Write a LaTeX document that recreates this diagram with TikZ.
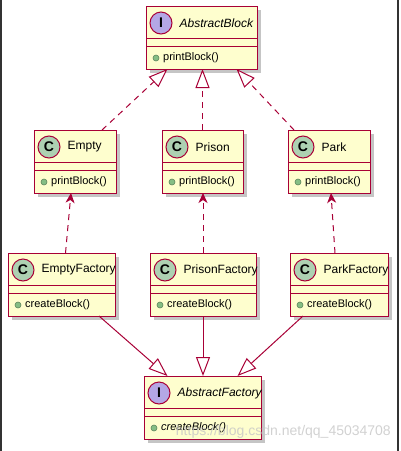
\documentclass[tikz,border=0pt]{standalone}
\usepackage{fontspec}
\setmainfont{Liberation Sans}
\usetikzlibrary{arrows.meta,shadows}

\definecolor{umlred}{HTML}{A80036}
\definecolor{umlfill}{HTML}{FEFECE}
\definecolor{classc}{HTML}{ADD1B2}
\definecolor{ifacec}{HTML}{B4A7E5}
\definecolor{dotc}{HTML}{84BE84}
\definecolor{framec}{HTML}{333333}

\tikzset{
  umlline/.style={draw=umlred, line width=1pt},
  classbox/.style={umlline, fill=umlfill, rectangle, anchor=north, minimum height=63pt,
    inner sep=0pt, outer sep=0pt,
    drop shadow={shadow xshift=4pt, shadow yshift=-4pt, fill=black!45, opacity=0.5}},
  stereo/.style={circle, draw=umlred, line width=1pt, minimum size=22pt, inner sep=0pt,
    font=\fontsize{14}{14}\selectfont\bfseries},
  classname/.style={anchor=west, inner sep=0pt, font=\fontsize{12}{14}\selectfont},
  member/.style={anchor=west, inner sep=0pt, font=\fontsize{11}{13}\selectfont},
  mdot/.style={circle, draw=dotc!70!black, fill=dotc, minimum size=6pt, inner sep=0pt, line width=0.6pt},
  realize/.style={umlline, dash pattern=on 6pt off 5pt, -{Triangle[open, length=19pt, width=14pt, fill=white]}},
  depend/.style={umlline, dash pattern=on 6pt off 5pt, -{Stealth[length=10pt, width=9pt, inset=3pt]}},
  extend/.style={umlline, -{Triangle[open, length=19pt, width=14pt, fill=white]}}
}

% name, centre x, top y, width, letter, circle colour, title, method
\newcommand{\umlclass}[8]{%
  \node[classbox, minimum width=#4] (#1) at (#2,#3) {};
  \draw[umlline] ([yshift=-32pt]#1.north west) -- ([yshift=-32pt]#1.north east)
                 ([yshift=-40pt]#1.north west) -- ([yshift=-40pt]#1.north east);
  \node[stereo, fill=#6] (#1-c) at ([xshift=15pt,yshift=-17pt]#1.north west) {#5};
  \node[classname] (#1-t) at ([xshift=7pt]#1-c.east) {#7};
  \node[mdot] (#1-d) at ([xshift=10pt,yshift=-52pt]#1.north west) {};
  \node[member] (#1-m) at ([xshift=17pt,yshift=-52pt]#1.north west) {#8};
}

\begin{document}
\begin{tikzpicture}[x=1pt,y=-1pt]
\useasboundingbox (0,0) rectangle (400,451);
\fill[framec] (0,0) rectangle (2,451);
\fill[framec] (397,0) rectangle (399,451);

\umlclass{ablock}{201.5}{6}{111pt}{I}{ifacec}{\textit{AbstractBlock}}{printBlock()}
\umlclass{empty}{75}{130}{82pt}{C}{classc}{Empty}{printBlock()}
\umlclass{prison}{202.5}{130}{81pt}{C}{classc}{Prison}{printBlock()}
\umlclass{park}{329}{130}{82pt}{C}{classc}{Park}{printBlock()}
\umlclass{emptyf}{61.5}{253}{107pt}{C}{classc}{EmptyFactory}{createBlock()}
\umlclass{prisonf}{203}{253}{106pt}{C}{classc}{PrisonFactory}{createBlock()}
\umlclass{parkf}{339}{253}{98pt}{C}{classc}{ParkFactory}{createBlock()}
\umlclass{afactory}{202.5}{376}{117pt}{I}{ifacec}{\textit{AbstractFactory}}{\textit{createBlock()}}

% products realize AbstractBlock
\draw[realize] ([xshift=-14pt]empty.north east) -- ([xshift=-34pt]ablock.south);
\draw[realize] (prison.north) -- (prison.north |- ablock.south);
\draw[realize] ([xshift=6pt]park.north west) -- ([xshift=35pt]ablock.south);

% factories use products
\draw[depend] ([xshift=4pt]emptyf.north) -- ([xshift=-4pt]empty.south);
\draw[depend] (prisonf.north) -- (prisonf.north |- prison.south);
\draw[depend] ([xshift=-4pt]parkf.north) -- ([xshift=2pt]park.south);

% factories extend AbstractFactory
\draw[extend] ([xshift=-16pt]emptyf.south east) -- ([xshift=-35pt]afactory.north);
\draw[extend] (prisonf.south) -- (prisonf.south |- afactory.north);
\draw[extend] ([xshift=13pt]parkf.south west) -- ([xshift=35pt]afactory.north);

\node[anchor=east, inner sep=0pt, text=gray!45, opacity=0.8, font=\fontsize{14}{16}\selectfont]
  (wm) at (391,432) {https://blog.csdn.net/qq\_45034708};
\end{tikzpicture}
\end{document}
